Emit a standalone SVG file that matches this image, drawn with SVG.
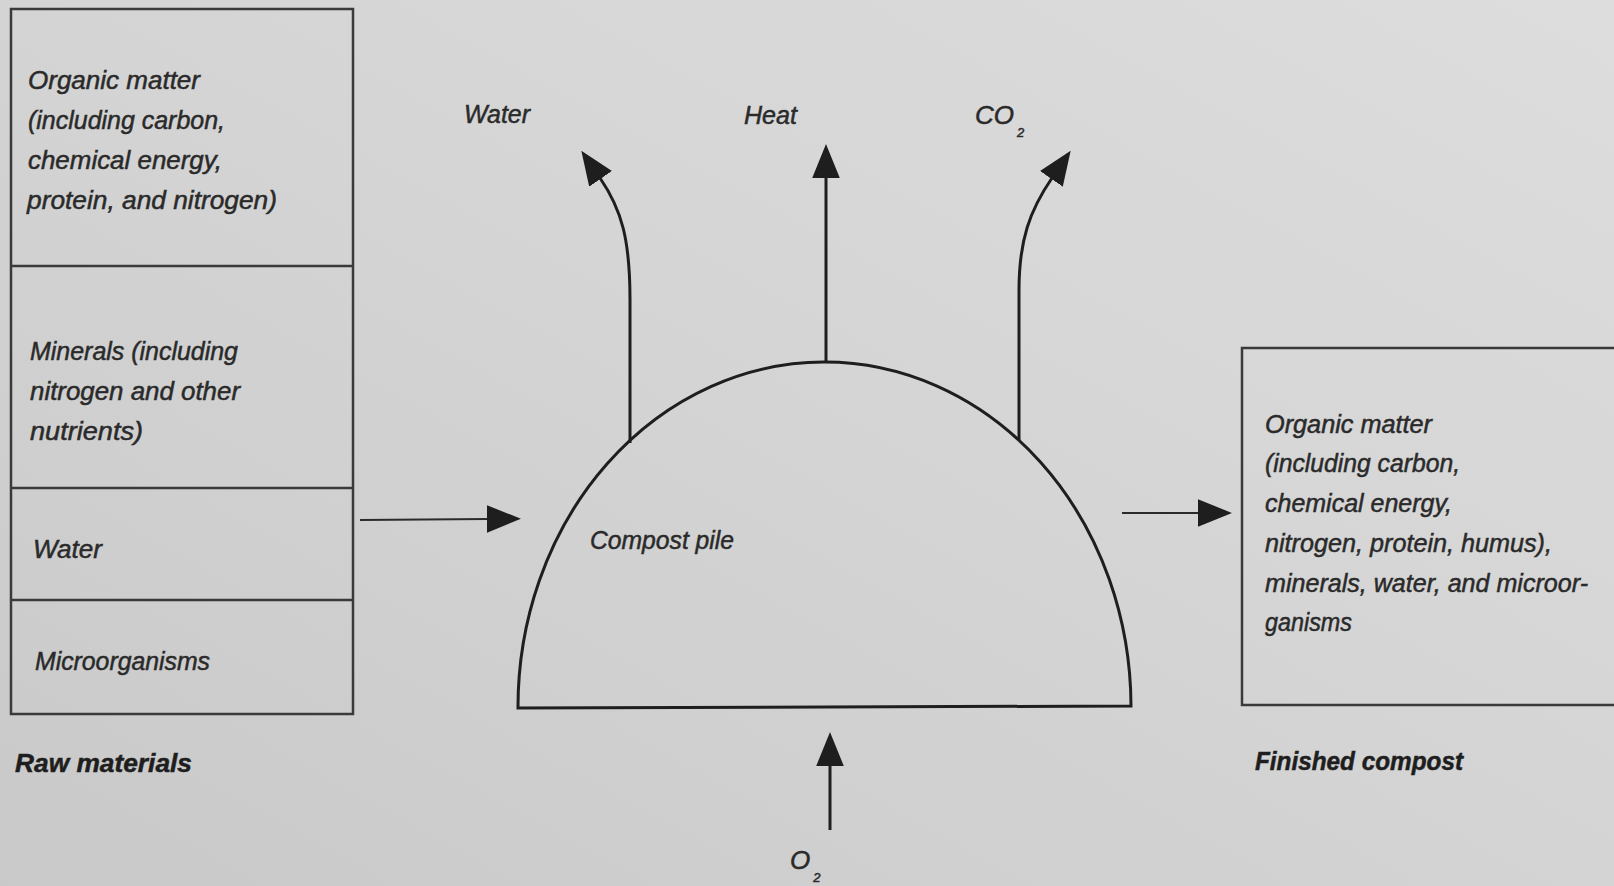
<svg xmlns="http://www.w3.org/2000/svg" width="1614" height="886" viewBox="0 0 1614 886">
<defs>
<linearGradient id="paper" x1="0" y1="1" x2="1" y2="0">
<stop offset="0" stop-color="#c9c9c9"/>
<stop offset="0.5" stop-color="#d4d4d4"/>
<stop offset="1" stop-color="#dddddd"/>
</linearGradient>
<marker id="head" markerUnits="userSpaceOnUse" markerWidth="34" markerHeight="28" viewBox="0 0 32 26" refX="1" refY="13" orient="auto">
<path d="M0,0 L32,13 L0,26 Z" fill="#1e1e1e"/>
</marker>
</defs>
<style>
.box{fill:none;stroke:#3a3a3a;stroke-width:2.5}
.line{fill:none;stroke:#1e1e1e;stroke-width:3}
.thin{fill:none;stroke:#2a2a2a;stroke-width:2}
.t{font-family:"Liberation Sans",Arial,sans-serif;font-style:italic;font-size:26px;fill:#2a2a2a;stroke:#2a2a2a;stroke-width:0.5}
.b{font-weight:bold;fill:#1e1e1e;stroke:#1e1e1e}
.sub{font-size:13px}
</style>
<rect x="0" y="0" width="1614" height="886" fill="url(#paper)"/>

<g id="raw-materials">
<rect class="box" x="11" y="9" width="342" height="705"/>
<line class="box" x1="11" y1="266" x2="353" y2="266"/>
<line class="box" x1="11" y1="488" x2="353" y2="488"/>
<line class="box" x1="11" y1="600" x2="353" y2="600"/>
<text class="t" x="28" y="89" textLength="172" lengthAdjust="spacingAndGlyphs">Organic matter</text>
<text class="t" x="28" y="129" textLength="197" lengthAdjust="spacingAndGlyphs">(including carbon,</text>
<text class="t" x="28" y="169" textLength="194" lengthAdjust="spacingAndGlyphs">chemical energy,</text>
<text class="t" x="27" y="209" textLength="250" lengthAdjust="spacingAndGlyphs">protein, and nitrogen)</text>
<text class="t" x="30" y="360" textLength="208" lengthAdjust="spacingAndGlyphs">Minerals (including</text>
<text class="t" x="30" y="400" textLength="210" lengthAdjust="spacingAndGlyphs">nitrogen and other</text>
<text class="t" x="30" y="440" textLength="113" lengthAdjust="spacingAndGlyphs">nutrients)</text>
<text class="t" x="33" y="558" textLength="69" lengthAdjust="spacingAndGlyphs">Water</text>
<text class="t" x="35" y="670" textLength="175" lengthAdjust="spacingAndGlyphs">Microorganisms</text>
<text class="t b" x="15" y="772" textLength="177" lengthAdjust="spacingAndGlyphs">Raw materials</text>
</g>

<g id="compost-pile">
<path class="line" d="M518,708 A306.5,345 0 0 1 1131,706 L518,708 Z"/>
<text class="t" x="590" y="549" textLength="144" lengthAdjust="spacingAndGlyphs">Compost pile</text>
</g>

<g id="finished-compost">
<path class="box" d="M1614,348 L1242,348 L1242,705 L1614,705"/>
<text class="t" x="1265" y="433" textLength="167" lengthAdjust="spacingAndGlyphs">Organic matter</text>
<text class="t" x="1265" y="472" textLength="195" lengthAdjust="spacingAndGlyphs">(including carbon,</text>
<text class="t" x="1265" y="512" textLength="187" lengthAdjust="spacingAndGlyphs">chemical energy,</text>
<text class="t" x="1265" y="552" textLength="287" lengthAdjust="spacingAndGlyphs">nitrogen, protein, humus),</text>
<text class="t" x="1265" y="592" textLength="323" lengthAdjust="spacingAndGlyphs">minerals, water, and microor-</text>
<text class="t" x="1265" y="631" textLength="87" lengthAdjust="spacingAndGlyphs">ganisms</text>
<text class="t b" x="1255" y="770" textLength="208" lengthAdjust="spacingAndGlyphs">Finished compost</text>
</g>

<g id="label-water">
<text class="t" x="464" y="123" textLength="66" lengthAdjust="spacingAndGlyphs">Water</text>
</g>
<g id="label-heat">
<text class="t" x="744" y="124" textLength="53" lengthAdjust="spacingAndGlyphs">Heat</text>
</g>
<g id="label-co2">
<text class="t" x="975" y="124">CO<tspan class="sub" dx="3" dy="13">2</tspan></text>
</g>
<g id="label-o2">
<text class="t" x="790" y="869">O<tspan class="sub" dx="3" dy="13">2</tspan></text>
</g>

<g id="connectors">
<path class="line" d="M630,443 L630,300 C630,240 622,210 600,178" marker-end="url(#head)"/>
<path class="line" d="M826,363 L826,177" marker-end="url(#head)"/>
<path class="line" d="M1019,440 L1019,290 C1019,240 1030,210 1052,178" marker-end="url(#head)"/>
<path class="line" d="M830,830 L830,765" marker-end="url(#head)"/>
<path class="thin" d="M360,520 L488,519" marker-end="url(#head)"/>
<path class="thin" d="M1122,513 L1199,513" marker-end="url(#head)"/>
</g>
</svg>
